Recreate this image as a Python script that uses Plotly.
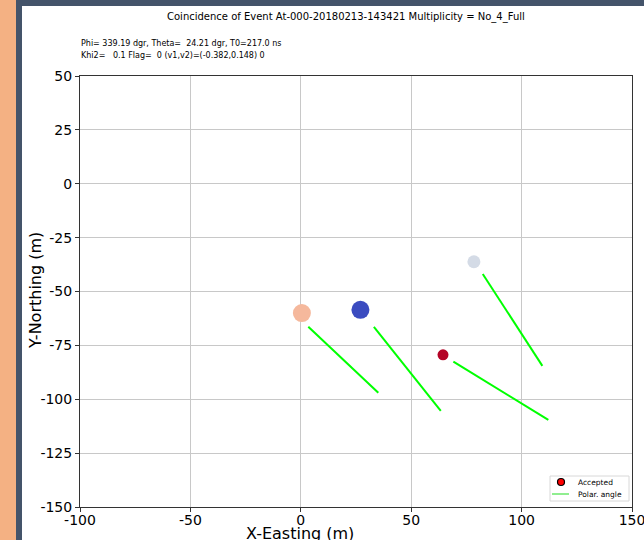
import plotly.graph_objects as go

# ---- data ----
station_x = [0.5, 27.0, 64.4, 78.4]
station_y = [-60.0, -58.5, -79.4, -36.2]
station_size = [18, 18, 11, 13]
station_color = ["#F5B89C", "#3B4CC0", "#B40426", "#D4DBE6"]

seg_x0 = [3.4, 33.1, 69.1, 82.4]
seg_y0 = [-66.4, -66.4, -82.5, -41.9]
seg_x1 = [35.1, 63.4, 112.1, 109.4]
seg_y1 = [-97.0, -105.4, -109.6, -84.5]

x_ticks = [-100, -50, 0, 50, 100, 150]
y_ticks = [50, 25, 0, -25, -50, -75, -100, -125, -150]

legend_labels = ["Accepted", "Polar. angle"]

title_text = "Coincidence of Event At-000-20180213-143421 Multiplicity = No_4_Full"
info_line1 = "Phi= 339.19 dgr, Theta=  24.21 dgr, T0=217.0 ns"
info_line2 = "Khi2=   0.1 Flag=  0 (v1,v2)=(-0.382,0.148) 0"

FONT = "DejaVu Sans"
W, H = 644, 540
L, R, T, B = 80, 12, 76, 33
pw, ph = W - L - R, H - T - B


def px(xp):
    return (xp - L) / pw


def py(yp):
    return (H - B - yp) / ph


fig = go.Figure()

# green polar-angle segments
for a, b, c, d in zip(seg_x0, seg_y0, seg_x1, seg_y1):
    fig.add_trace(go.Scatter(x=[a, c], y=[b, d], mode="lines",
                             line=dict(color="#00FF00", width=2),
                             showlegend=False, hoverinfo="skip"))

# stations
fig.add_trace(go.Scatter(x=station_x, y=station_y, mode="markers",
                         marker=dict(size=station_size, color=station_color,
                                     opacity=1, line=dict(width=0)),
                         opacity=1, showlegend=False))

fig.update_xaxes(range=[-100, 150], tickvals=x_ticks,
                 ticktext=[str(v) for v in x_ticks],
                 showgrid=True, gridcolor="#c8c8c8", gridwidth=1,
                 zeroline=False, showline=True, linecolor="#333333",
                 linewidth=1, mirror=True, ticks="outside", ticklen=4,
                 tickcolor="#333333", ticklabeloverflow="allow",
                 ticklabelstandoff=-4,
                 tickfont=dict(family=FONT, size=14, color="black"))
fig.update_yaxes(range=[-150, 50], tickvals=y_ticks,
                 ticktext=[str(v) for v in y_ticks],
                 showgrid=True, gridcolor="#c8c8c8", gridwidth=1,
                 zeroline=False, showline=True, linecolor="#333333",
                 linewidth=1, mirror=True, ticks="outside", ticklen=4,
                 tickcolor="#333333", ticklabeloverflow="allow",
                 tickfont=dict(family=FONT, size=14, color="black"))

shapes = [
    dict(type="rect", xref="paper", yref="paper", x0=px(0), x1=px(16),
         y0=py(H), y1=py(0), fillcolor="#F4B183", line=dict(width=0)),
    dict(type="rect", xref="paper", yref="paper", x0=px(16), x1=px(22),
         y0=py(H), y1=py(0), fillcolor="#44546A", line=dict(width=0)),
    dict(type="rect", xref="paper", yref="paper", x0=px(16), x1=px(W),
         y0=py(6), y1=py(0), fillcolor="#44546A", line=dict(width=0)),
    # legend box
    dict(type="rect", xref="paper", yref="paper", x0=px(550), x1=px(629),
         y0=py(501), y1=py(476), fillcolor="white",
         line=dict(color="#d8d8d8", width=1)),
    # legend marker
    dict(type="circle", xref="paper", yref="paper", x0=px(557.5), x1=px(564.5),
         y0=py(485.5), y1=py(478.5), fillcolor="red",
         line=dict(color="black", width=1.2)),
    # legend line
    dict(type="line", xref="paper", yref="paper", x0=px(552), x1=px(569),
         y0=py(494), y1=py(494), line=dict(color="#90EE90", width=2)),
]

annotations = [
    dict(text=title_text, xref="paper", yref="paper", x=px(346), y=py(17),
         xanchor="center", yanchor="middle", showarrow=False,
         font=dict(family=FONT, size=10, color="black")),
    dict(text=info_line1.replace("  ", "&nbsp; "), xref="paper", yref="paper",
         x=px(79), y=py(43), xanchor="left", yanchor="middle",
         showarrow=False, font=dict(family=FONT, size=8, color="black")),
    dict(text=info_line2.replace("  ", "&nbsp; "), xref="paper", yref="paper",
         x=px(79), y=py(55), xanchor="left", yanchor="middle",
         showarrow=False, font=dict(family=FONT, size=8, color="black")),
    dict(text="X-Easting (m)", xref="paper", yref="paper", x=px(300),
         y=py(533), xanchor="center", yanchor="middle", showarrow=False,
         font=dict(family=FONT, size=16, color="black")),
    dict(text="Y-Northing (m)", xref="paper", yref="paper", x=px(35),
         y=py(291), xanchor="center", yanchor="middle", showarrow=False,
         textangle=-90, font=dict(family=FONT, size=16, color="black")),
    dict(text=legend_labels[0], xref="paper", yref="paper", x=px(576),
         y=py(482), xanchor="left", yanchor="middle", showarrow=False,
         font=dict(family=FONT, size=7.5, color="black")),
    dict(text=legend_labels[1], xref="paper", yref="paper", x=px(576),
         y=py(494), xanchor="left", yanchor="middle", showarrow=False,
         font=dict(family=FONT, size=7.5, color="black")),
]

fig.update_layout(
    width=W, height=H,
    margin=dict(l=L, r=R, t=T, b=B, autoexpand=False),
    paper_bgcolor="white", plot_bgcolor="white",
    shapes=shapes, annotations=annotations,
    showlegend=False,
    font=dict(family=FONT),
)

fig.write_html("out.html")
